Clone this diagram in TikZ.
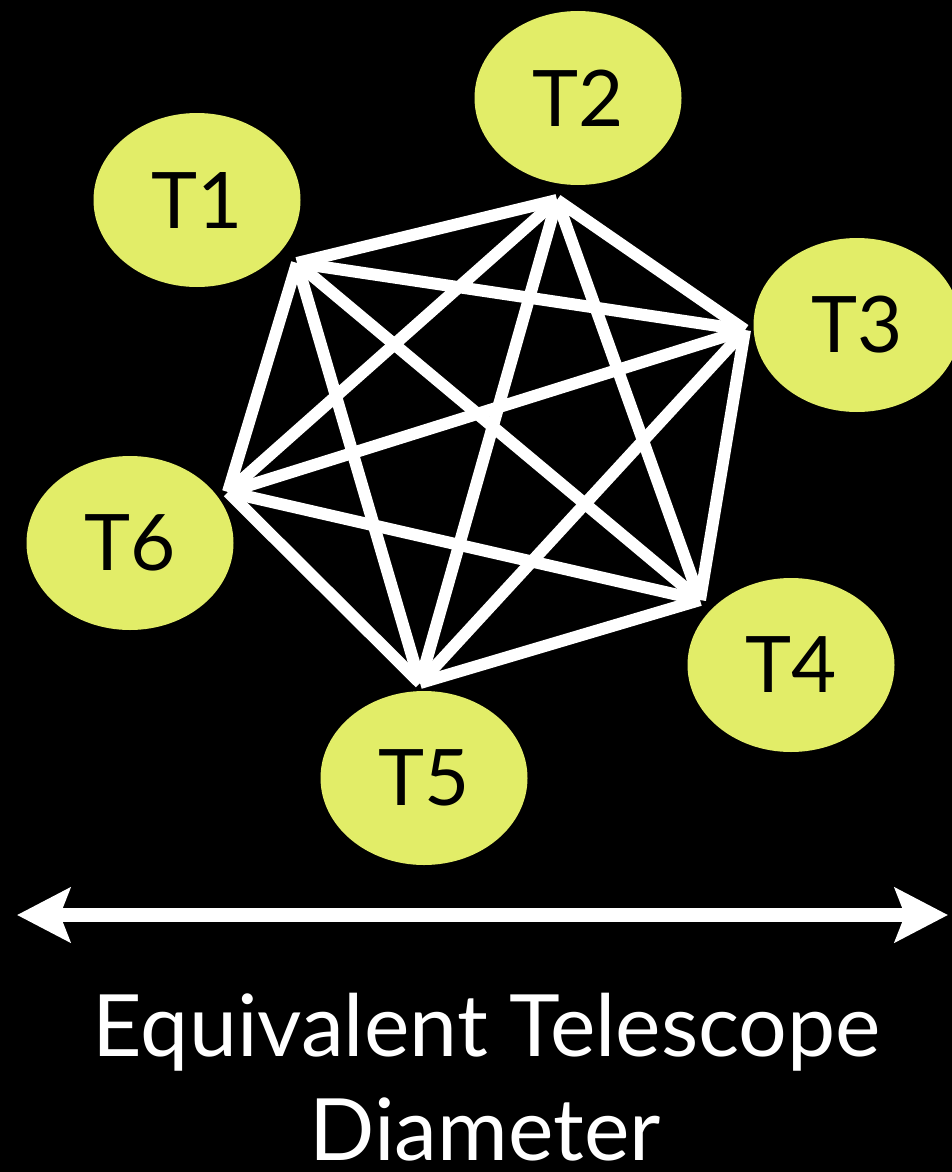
\documentclass[tikz,border=0pt]{standalone}
\usepackage{fontspec}
\setmainfont{Lato}
\usetikzlibrary{arrows.meta,shapes.geometric}
\definecolor{scope}{RGB}{226,237,104}

\begin{document}
\begin{tikzpicture}[x=1pt,y=-1pt,line width=12pt,
  tele/.style={ellipse,fill=scope,minimum width=207pt,minimum height=174pt,inner sep=0pt,
    font=\fontsize{78}{78}\selectfont},
  caption/.style={white,anchor=base,inner sep=0pt,font=\fontsize{86}{86}\selectfont}]
  \fill[black] (0,0) rectangle (952,1172);
  \useasboundingbox (0,0) rectangle (952,1172);
  % telescopes
  \node[tele] (t1) at (197,200){T1};
  \node[tele] (t2) at (578,98){T2};
  \node[tele] (t3) at (857,325){T3};
  \node[tele] (t4) at (791,665){T4};
  \node[tele] (t5) at (424,778){T5};
  \node[tele] (t6) at (130,543){T6};
  % baselines
  \coordinate (v1) at (297,263);
  \coordinate (v2) at (557,200);
  \coordinate (v3) at (745,330);
  \coordinate (v4) at (700,600);
  \coordinate (v5) at (420,683);
  \coordinate (v6) at (228,492);
  \foreach \a/\b in {1/2,1/3,1/4,1/5,1/6,2/3,2/4,2/5,2/6,3/4,3/5,3/6,4/5,4/6,5/6}
    \draw[white] (v\a) -- (v\b);
  % diameter
  \coordinate (dl) at (17,915);
  \coordinate (dr) at (948,915);
  \draw[white,line width=14pt,{Stealth[length=53pt,width=54pt,inset=10pt]}-{Stealth[length=53pt,width=54pt,inset=10pt]}] (dl) -- (dr);
  \node[caption] (cap1) at (487,1056){Equivalent Telescope};
  \node[caption] (cap2) at (485,1160){Diameter};
\end{tikzpicture}
\end{document}
